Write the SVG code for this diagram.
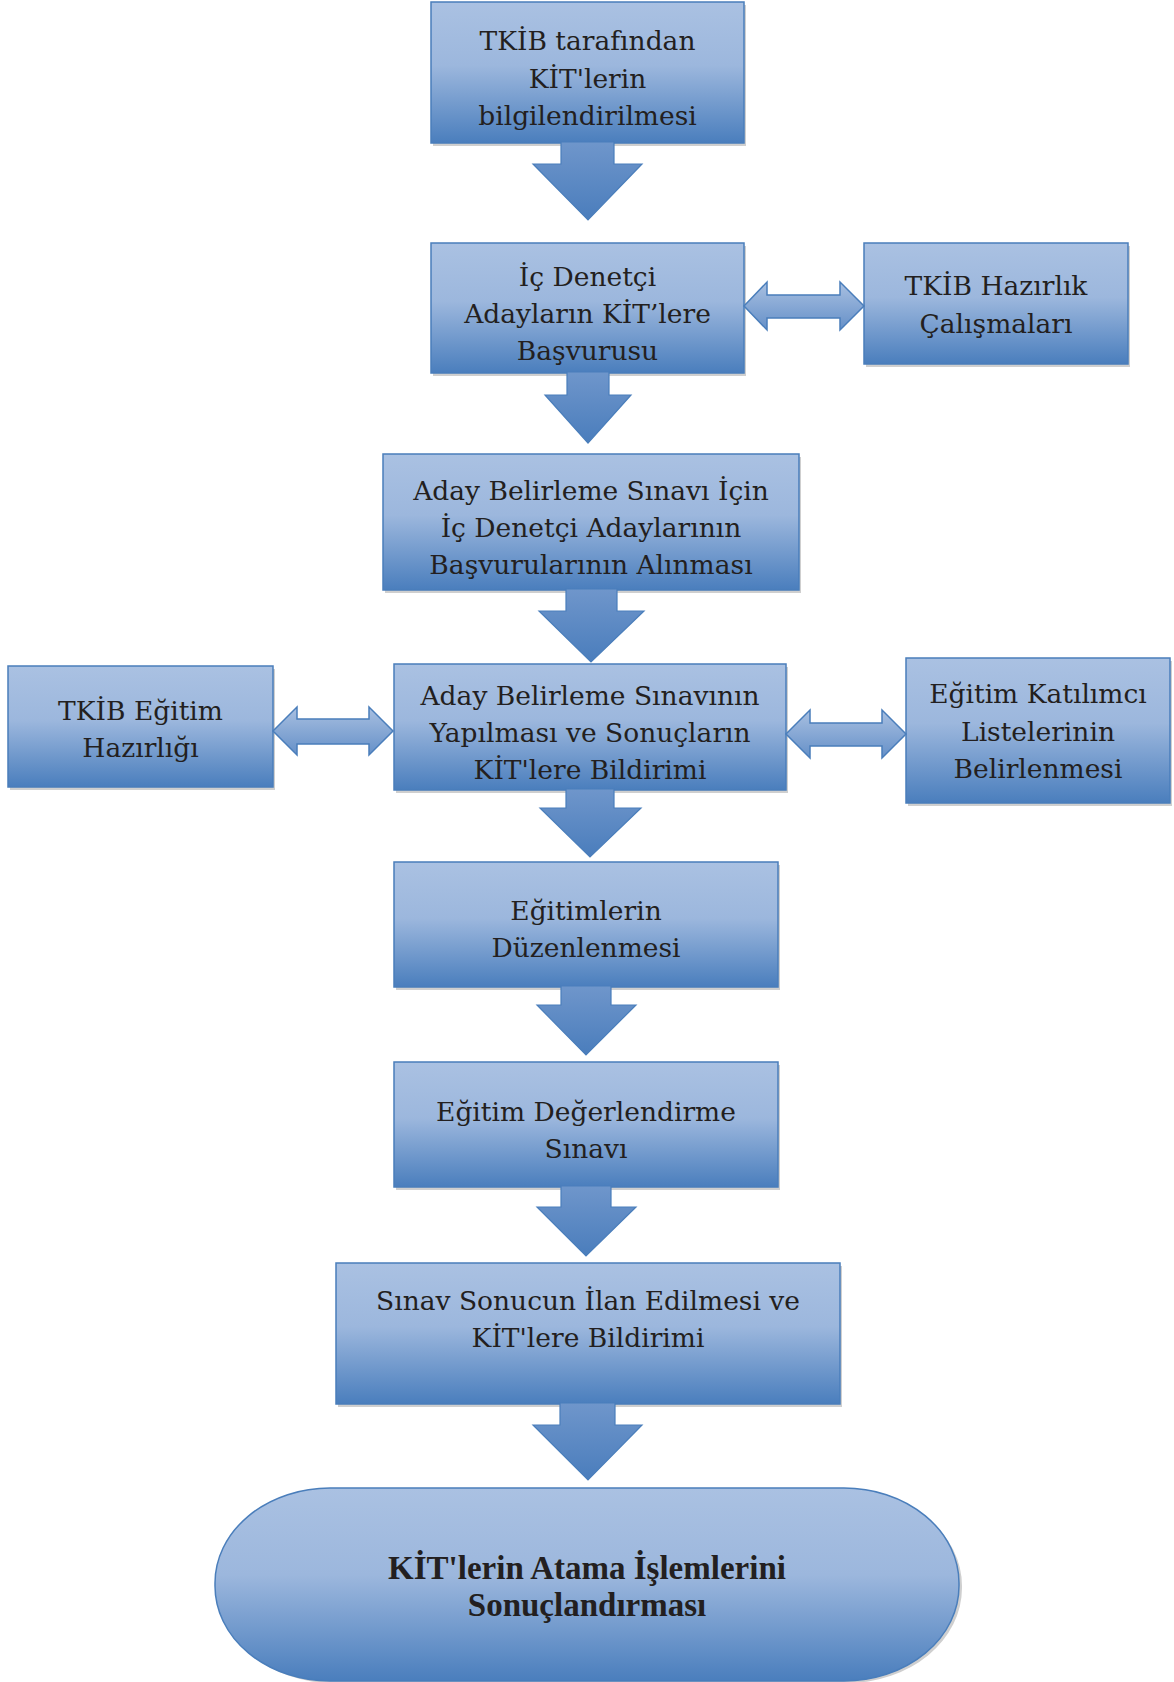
<svg xmlns="http://www.w3.org/2000/svg" width="1174" height="1682" viewBox="0 0 1174 1682">
<defs>
<linearGradient id="gBox" x1="0" y1="0" x2="0" y2="1">
<stop offset="0" stop-color="#aac1e2"/>
<stop offset="0.45" stop-color="#9cb7dd"/>
<stop offset="1" stop-color="#4a7ebd"/>
</linearGradient>
<linearGradient id="gArr" x1="0" y1="0" x2="0" y2="1">
<stop offset="0" stop-color="#6f96cb"/>
<stop offset="1" stop-color="#4a7dbc"/>
</linearGradient>
<linearGradient id="gDbl" x1="0" y1="0" x2="0" y2="1">
<stop offset="0" stop-color="#a9c0e1"/>
<stop offset="1" stop-color="#6590c8"/>
</linearGradient>
</defs>
<style>
.box{fill:url(#gBox);stroke:#4a7ebb;stroke-width:1.5}
.sh{fill:#cfcfcf}
.arr{fill:url(#gArr);stroke:#4a7ebb;stroke-width:1.2}
.dbl{fill:url(#gDbl);stroke:#4a7ebb;stroke-width:1.5}
.t{font-family:"DejaVu Serif","Liberation Serif",serif;font-size:26.5px;fill:#231f20;text-anchor:middle}
.tb{font-family:"Liberation Serif","DejaVu Serif",serif;font-size:33px;font-weight:bold;fill:#231f20;text-anchor:middle}
</style>
<rect width="1174" height="1682" fill="#ffffff"/>

<g id="n1">
<rect class="sh" x="433" y="5" width="313" height="141"/>
<rect class="box" x="431" y="2" width="313" height="141"/>
<text class="t" x="587.5" y="50">TKİB tarafından</text>
<text class="t" x="587.5" y="88">KİT'lerin</text>
<text class="t" x="587.5" y="125">bilgilendirilmesi</text>
</g>

<g id="n2">
<rect class="sh" x="433" y="246" width="313" height="130"/>
<rect class="box" x="431" y="243" width="313" height="130"/>
<text class="t" x="587.5" y="286">İç Denetçi</text>
<text class="t" x="587.5" y="323">Adayların KİT’lere</text>
<text class="t" x="587.5" y="360">Başvurusu</text>
</g>

<g id="n3">
<rect class="sh" x="866" y="246" width="264" height="121"/>
<rect class="box" x="864" y="243" width="264" height="121"/>
<text class="t" x="996" y="295">TKİB Hazırlık</text>
<text class="t" x="996" y="333">Çalışmaları</text>
</g>

<g id="n4">
<rect class="sh" x="385" y="457" width="416" height="136"/>
<rect class="box" x="383" y="454" width="416" height="136"/>
<text class="t" x="591" y="500">Aday Belirleme Sınavı İçin</text>
<text class="t" x="591" y="537">İç Denetçi Adaylarının</text>
<text class="t" x="591" y="574">Başvurularının Alınması</text>
</g>

<g id="n5">
<rect class="sh" x="396" y="667" width="392" height="126"/>
<rect class="box" x="394" y="664" width="392" height="126"/>
<text class="t" x="590" y="705">Aday Belirleme Sınavının</text>
<text class="t" x="590" y="742">Yapılması ve Sonuçların</text>
<text class="t" x="590" y="779">KİT'lere Bildirimi</text>
</g>

<g id="n6">
<rect class="sh" x="10" y="669" width="265" height="121"/>
<rect class="box" x="8" y="666" width="265" height="121"/>
<text class="t" x="140.5" y="720">TKİB Eğitim</text>
<text class="t" x="140.5" y="757">Hazırlığı</text>
</g>

<g id="n7">
<rect class="sh" x="908" y="661" width="264" height="145"/>
<rect class="box" x="906" y="658" width="264" height="145"/>
<text class="t" x="1038" y="703">Eğitim Katılımcı</text>
<text class="t" x="1038" y="741">Listelerinin</text>
<text class="t" x="1038" y="778">Belirlenmesi</text>
</g>

<g id="n8">
<rect class="sh" x="396" y="865" width="384" height="125"/>
<rect class="box" x="394" y="862" width="384" height="125"/>
<text class="t" x="586" y="920">Eğitimlerin</text>
<text class="t" x="586" y="957">Düzenlenmesi</text>
</g>

<g id="n9">
<rect class="sh" x="396" y="1065" width="384" height="125"/>
<rect class="box" x="394" y="1062" width="384" height="125"/>
<text class="t" x="586" y="1121">Eğitim Değerlendirme</text>
<text class="t" x="586" y="1158">Sınavı</text>
</g>

<g id="n10">
<rect class="sh" x="338" y="1266" width="504" height="141"/>
<rect class="box" x="336" y="1263" width="504" height="141"/>
<text class="t" x="588" y="1310">Sınav Sonucun İlan Edilmesi ve</text>
<text class="t" x="588" y="1347">KİT'lere Bildirimi</text>
</g>

<g id="n11">
<rect class="sh" x="218" y="1491" width="744" height="192" rx="115" ry="95"/>
<rect class="box" x="215" y="1488" width="744" height="193" rx="115" ry="95"/>
<text class="tb" x="587" y="1579">KİT'lerin Atama İşlemlerini</text>
<text class="tb" x="587" y="1616">Sonuçlandırması</text>
</g>

<g id="connectors">
<path class="arr" d="M561,142 H614 V164 H642 L588,220 L533,164 H561 Z"/>
<path class="arr" d="M567,372 H609 V395 H631 L588,443 L545,395 H567 Z"/>
<path class="arr" d="M566,589 H617 V611 H644 L591,662 L539,611 H566 Z"/>
<path class="arr" d="M566,789 H614 V808 H641 L590,857 L540,808 H566 Z"/>
<path class="arr" d="M561,986 H611 V1005 H636 L586,1055 L537,1005 H561 Z"/>
<path class="arr" d="M561,1186 H611 V1207 H636 L586,1256 L537,1207 H561 Z"/>
<path class="arr" d="M560,1403 H615 V1425 H642 L588,1480 L533,1425 H560 Z"/>
<path class="dbl" d="M744,306 L767,282 V295 H840 V282 L864,306 L840,330 V318 H767 V330 Z"/>
<path class="dbl" d="M273,731 L297,707 V719 H369 V707 L393,731 L369,755 V744 H297 V755 Z"/>
<path class="dbl" d="M786,734 L810,710 V723 H882 V710 L906,734 L882,758 V746 H810 V758 Z"/>
</g>
</svg>
